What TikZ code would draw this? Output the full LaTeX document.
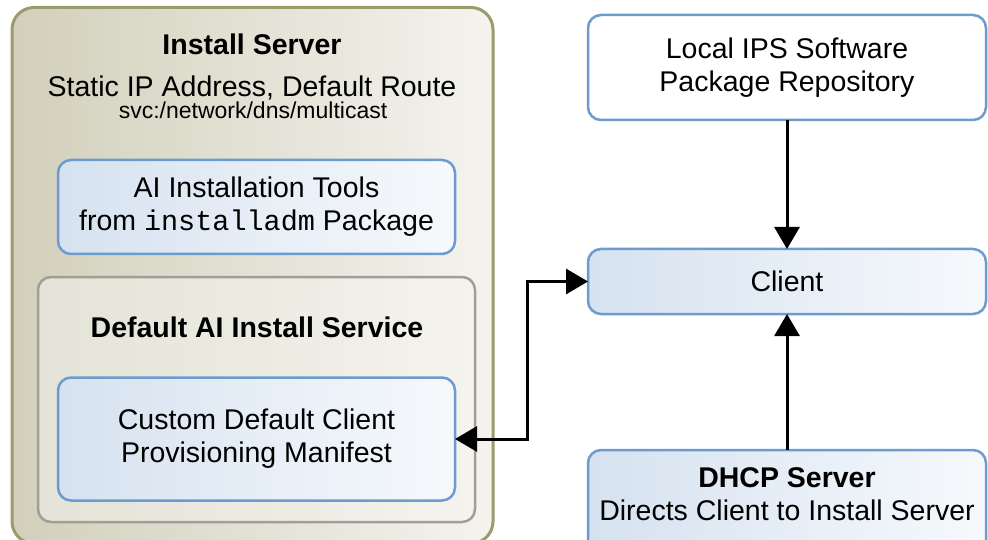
\documentclass[tikz,border=0pt]{standalone}
\usepackage{fontspec}
\setmainfont{Liberation Sans}
\setmonofont{Liberation Mono}
\usetikzlibrary{arrows.meta}
\definecolor{srvedge}{HTML}{9C9B6B}
\definecolor{srvdark}{HTML}{D2D0BB}
\definecolor{srvlight}{HTML}{F4F3EE}
\definecolor{svcedge}{HTML}{A09F97}
\definecolor{svcdark}{HTML}{E4E3D7}
\definecolor{svclight}{HTML}{F4F3ED}
\definecolor{boxedge}{HTML}{6C9BD0}
\definecolor{boxdark}{HTML}{D6E2F0}
\definecolor{boxlight}{HTML}{F6F9FC}
\tikzset{
  txt/.style={font=\fontsize{28.5}{33}\selectfont, align=center, inner sep=0pt},
  srvbox/.style={draw=srvedge, line width=3pt, rounded corners=22pt,
    left color=srvdark, right color=srvlight, inner sep=0pt, outer sep=0pt},
  svcbox/.style={draw=svcedge, line width=2.5pt, rounded corners=13pt,
    left color=svcdark, right color=svclight, inner sep=0pt, outer sep=0pt},
  bluebox/.style={txt, draw=boxedge, line width=2.5pt, rounded corners=13pt,
    left color=boxdark, right color=boxlight, outer sep=0pt},
  whitebox/.style={txt, draw=boxedge, line width=2.5pt, rounded corners=13pt,
    fill=white, outer sep=0pt},
  link/.style={line width=3pt, -{Triangle[length=22pt,width=25pt]}},
  dlink/.style={line width=3pt, {Triangle[length=22pt,width=25pt]}-{Triangle[length=22pt,width=25pt]}}
}
\begin{document}
\begin{tikzpicture}[x=1pt, y=-1pt]
  \useasboundingbox (0,0) rectangle (988,540);
  % install server
  \node[srvbox, minimum width=481, minimum height=536] (instsrv) at (252.5,275.5) {};
  \node[txt, font=\fontsize{28.5}{33}\selectfont\bfseries, anchor=base] (srvtitle) at (252,55) {Install Server};
  \node[txt, anchor=base] (srvaddr) at (252,97) {Static IP Address, Default Route};
  \node[txt, font=\fontsize{23}{26}\selectfont, anchor=base] (srvsvc) at (253,119) {svc:/network/dns/multicast};
  \node[bluebox, minimum width=397, minimum height=94] (aitools) at (256.5,207)
    {AI Installation Tools\\from \texttt{installadm} Package};
  % default service
  \node[svcbox, minimum width=437, minimum height=245] (aisvc) at (256.5,399.5) {};
  \node[txt, font=\fontsize{28.5}{33}\selectfont\bfseries, anchor=base] (svctitle) at (257,337) {Default AI Install Service};
  \node[bluebox, minimum width=397, minimum height=123] (manifest) at (256.5,439)
    {Custom Default Client\\Provisioning Manifest};
  % right column
  \node[whitebox, minimum width=398, minimum height=105] (ipsrepo) at (787,67.5)
    {Local IPS Software\\Package Repository};
  \node[bluebox, minimum width=398, minimum height=65] (client) at (787,281.5) {Client};
  \node[bluebox, minimum width=398, minimum height=110] (dhcp) at (787,505) {};
  \node[txt] (dhcptxt) at (787,494)
    {\textbf{DHCP Server}\\Directs Client to Install Server};
  % connectors
  \coordinate (bend) at (527,0);
  \draw[link] (ipsrepo) -- (client);
  \draw[link] (dhcp) -- (client);
  \draw[dlink] (manifest.east) -- (manifest.east -| bend) -- (client.west -| bend) -- (client.west);
\end{tikzpicture}
\end{document}
